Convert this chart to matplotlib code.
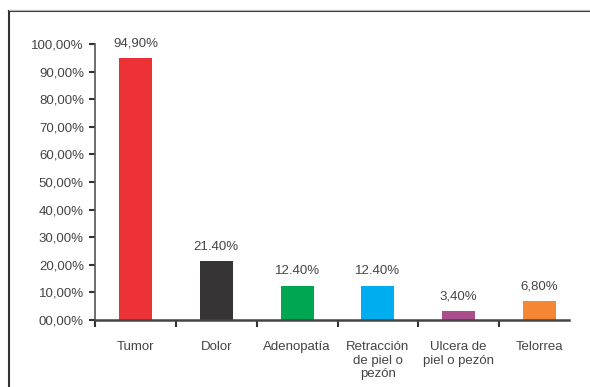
import matplotlib
matplotlib.use("Agg")
import matplotlib.pyplot as plt
from matplotlib.lines import Line2D

plt.rcParams['font.family'] = ['Liberation Sans', 'DejaVu Sans']

categories = ["Tumor", "Dolor", "Adenopatía", "Retracción\nde piel o\npezón", "Ulcera de\npiel o pezón", "Telorrea"]
values = [94.9, 21.4, 12.4, 12.4, 3.4, 6.8]
value_labels = ["94,90%", "21.40%", "12.40%", "12.40%", "3,40%", "6,80%"]
colors = ["#ED3237", "#363435", "#00A651", "#00AEEF", "#A94F8B", "#F58634"]
yticks = [0, 10, 20, 30, 40, 50, 60, 70, 80, 90, 100]
ytick_labels = [f"{v:02d},00%" for v in yticks]

fig = plt.figure(figsize=(5.9, 3.87), dpi=100)
ax = fig.add_axes([95/590, 1-320/387, 485/590, 276/387])

x = list(range(len(categories)))
bars = ax.bar(x, values, width=0.41, color=colors)
for xi, v, lab in zip(x, values, value_labels):
    ax.annotate(lab, (xi, v), xytext=(0, 6), textcoords="offset points",
                ha="center", va="bottom", fontsize=9.5, color="#444444")

ax.set_xlim(-0.5, len(categories) - 0.5)
ax.set_ylim(0, 100)
ax.set_yticks(yticks)
ax.set_yticklabels(ytick_labels)
ax.set_xticks([i - 0.5 for i in range(len(categories))], minor=False)
ax.set_xticklabels([])
ax.set_xticks(x, minor=True)
ax.set_xticklabels(categories, minor=True, linespacing=1.2)
ax.tick_params(axis="x", which="major", direction="out", length=5, width=1.5, color="#333333")
ax.tick_params(axis="x", which="minor", length=0, pad=15, labelsize=9.5, labelcolor="#444444")
ax.tick_params(axis="y", direction="out", length=4, width=1.5, color="#333333", pad=4,
               labelsize=9.5, labelcolor="#444444")
for s in ["top", "right"]:
    ax.spines[s].set_visible(False)
ax.spines["left"].set_color("#555555")
ax.spines["left"].set_linewidth(1.2)
ax.spines["bottom"].set_color("#444444")
ax.spines["bottom"].set_linewidth(1.8)
ax.spines["bottom"].set_bounds(-0.5, 5.36)

# outer frame (left and top edges visible)
fig.add_artist(Line2D([9.3/590, 9.3/590], [0, 1-11/387], transform=fig.transFigure,
                      color="#333333", linewidth=1.5))
fig.add_artist(Line2D([9.3/590, 1], [1-11/387, 1-11/387], transform=fig.transFigure,
                      color="#333333", linewidth=1.5))
fig.add_artist(Line2D([9.3/590, 1], [1-9.5/387, 1-9.5/387], transform=fig.transFigure,
                      color="#BBBBBB", linewidth=0.8))

fig.savefig("out.png", dpi=100)
